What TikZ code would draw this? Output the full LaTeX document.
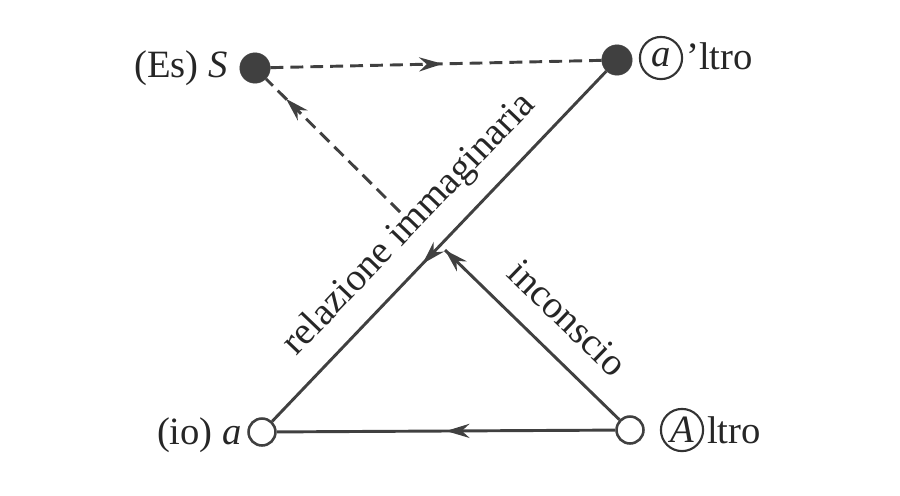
\documentclass[tikz,border=0pt]{standalone}
\usepackage{fontspec}
\setmainfont{Liberation Serif}
\usetikzlibrary{decorations.markings,arrows.meta}
\begin{document}
\begin{tikzpicture}[x=0.03cm,y=-0.03cm,
  ln/.style={draw=black!75,line width=2.5pt},
  dsh/.style={ln,dash pattern=on 11pt off 6pt},
  midarr/.style={postaction={decorate},decoration={markings,mark=at position #1 with {\arrow{Stealth[length=20pt,width=12pt]}}}},
  full/.style={circle,fill=black!75,draw=black!75,minimum size=26pt,inner sep=0pt},
  empty/.style={circle,fill=white,draw=black!75,line width=2.2pt,minimum size=23pt,inner sep=0pt},
  lab/.style={font=\fontsize{33}{36}\selectfont,text=black!85},
  circ/.style={circle,draw=black!80,line width=1.8pt,inner sep=1pt,minimum size=36pt}]
\useasboundingbox (0,0) rectangle (900,495);
\node[full] (S) at (255,68) {};
\node[full] (ap) at (617,60) {};
\node[empty] (a) at (262,432) {};
\node[empty] (A) at (630,430) {};
\coordinate (X) at (400,212);
\coordinate (Y) at (445,250);
\draw[dsh,midarr=0.52] (S) -- (ap);
\draw[dsh,midarr=0.85] (X) -- (S);
\draw[ln,midarr=0.55] (ap) -- (a);
\draw[ln,midarr=1] (A) -- (Y);
\draw[ln,midarr=0.5] (A) -- (a);
\node[lab,anchor=east] (ls) at (232,68) {(Es) \textit{S}};
\node[circ,lab] (ca) at (661,58) {\textit{a}};
\node[lab,anchor=west] (la) at (682,56) {'ltro};
\node[lab,anchor=east] (lio) at (246,435) {(io) \textit{a}};
\node[circ,lab] (cA) at (682,430) {\textit{A}};
\node[lab,anchor=west] (lA) at (703,430) {ltro};
\node[lab,rotate=46.3] (ri) at (410,225) {relazione immaginaria};
\node[lab,rotate=-44] (inc) at (568,318) {inconscio};
\end{tikzpicture}
\end{document}
